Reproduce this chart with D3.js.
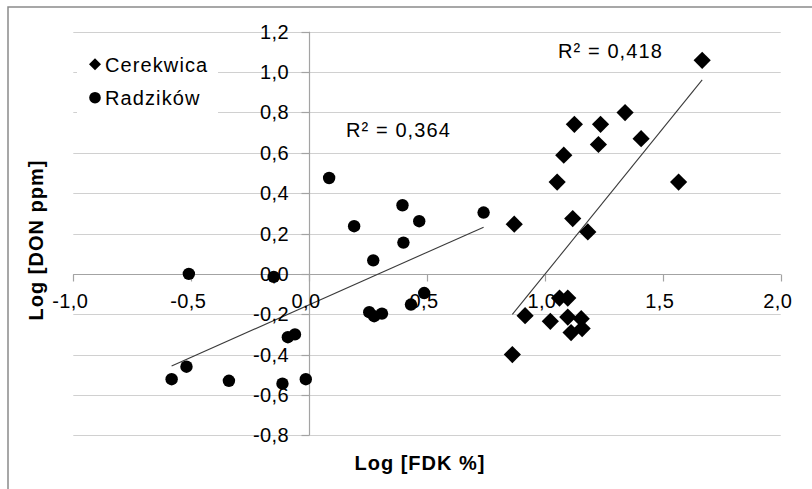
<!DOCTYPE html>
<html>
<head>
<meta charset="utf-8">
<script src="https://cdn.jsdelivr.net/npm/d3@7"></script>
<style>
  html, body { margin: 0; padding: 0; background: #fff; }
  svg { display: block; }
  text { font-family: "Liberation Sans", Arial, sans-serif; fill: #000; }
</style>
</head>
<body>
<svg id="chart" width="812" height="489"></svg>
<script>
// Series: log10 of FDK (%) and log10 of DON (ppm) per sample
const seriesNames = ["Cerekwica", "Radzików"];

const cerekwicaX = [1.667, 1.340, 1.125, 1.236, 1.227, 1.408, 1.080, 1.052, 1.567, 0.870, 1.118,
                    1.182, 1.062, 1.097, 0.916, 1.023, 1.097, 1.154, 1.111, 1.158, 0.862];
const cerekwicaY = [1.058, 0.799, 0.741, 0.741, 0.641, 0.670, 0.588, 0.455, 0.455, 0.246, 0.274,
                    0.208, -0.120, -0.120, -0.207, -0.235, -0.214, -0.222, -0.291, -0.271, -0.400];

const radzikowX = [-0.510, -0.150, -0.090, -0.060, -0.520, -0.583, -0.340, -0.113, -0.014, 0.085, 0.191,
                   0.272, 0.396, 0.400, 0.467, 0.740, 0.488, 0.432, 0.255, 0.276, 0.309];
const radzikowY = [0.000, -0.015, -0.314, -0.300, -0.460, -0.522, -0.530, -0.544, -0.522, 0.475, 0.236,
                   0.067, 0.340, 0.155, 0.261, 0.304, -0.095, -0.152, -0.190, -0.210, -0.197];

const r2Labels = ["R² = 0,418", "R² = 0,364"];

const xTicks = [-1.0, -0.5, 0.0, 0.5, 1.0, 1.5, 2.0];
const yTicks = [-0.8, -0.6, -0.4, -0.2, 0.0, 0.2, 0.4, 0.6, 0.8, 1.0, 1.2];

const xTitle = "Log [FDK %]";
const yTitle = "Log [DON ppm]";

// ---------------------------------------------------------------
const svg = d3.select("#chart");
const x = d3.scaleLinear().domain([-1, 2]).range([73.3, 780.7]);
const y = d3.scaleLinear().domain([-0.8, 1.2]).range([435.3, 31.7]);

// decimal comma, plain hyphen for negatives
const loc = d3.formatLocale({ decimal: ",", thousands: " ", grouping: [3], currency: ["", ""], minus: "-" });
const fmt = loc.format(".1f");

// outer frame
svg.append("rect")
  .attr("x", 8).attr("y", 7).attr("width", 840).attr("height", 520)
  .attr("fill", "none").attr("stroke", "#8a8a8a").attr("stroke-width", 1.5);

// horizontal gridlines
svg.append("g").selectAll("line").data(yTicks).join("line")
  .attr("x1", x(-1)).attr("x2", x(2))
  .attr("y1", d => Math.round(y(d)) + 0.5).attr("y2", d => Math.round(y(d)) + 0.5)
  .attr("stroke", "#d0d0d0").attr("stroke-width", 1.2);

// axes crossing at the origin
const x0 = Math.round(x(0)) + 0.5, y0 = Math.round(y(0)) + 0.5;
const axisColor = "#a3a3a3";
svg.append("line").attr("x1", x0).attr("x2", x0).attr("y1", y(1.2)).attr("y2", y(-0.8))
  .attr("stroke", axisColor).attr("stroke-width", 1.2);
svg.append("line").attr("x1", x(-1)).attr("x2", x(2)).attr("y1", y0).attr("y2", y0)
  .attr("stroke", axisColor).attr("stroke-width", 1.2);

// tick marks
svg.append("g").selectAll("line").data(xTicks).join("line")
  .attr("x1", d => Math.round(x(d)) + 0.5).attr("x2", d => Math.round(x(d)) + 0.5)
  .attr("y1", y0).attr("y2", y0 + 7)
  .attr("stroke", axisColor).attr("stroke-width", 1.2);
svg.append("g").selectAll("line").data(yTicks).join("line")
  .attr("x1", x0 - 8).attr("x2", x0)
  .attr("y1", d => Math.round(y(d)) + 0.5).attr("y2", d => Math.round(y(d)) + 0.5)
  .attr("stroke", axisColor).attr("stroke-width", 1.2);

// legend background hides the gridlines behind it
svg.append("rect").attr("x", 77).attr("y", 38).attr("width", 141).attr("height", 90).attr("fill", "#fff");

// trendlines (least squares, drawn over each series' x range)
function fit(xs, ys) {
  const n = xs.length, mx = d3.mean(xs), my = d3.mean(ys);
  let sxy = 0, sxx = 0;
  for (let i = 0; i < n; i++) { sxy += (xs[i] - mx) * (ys[i] - my); sxx += (xs[i] - mx) ** 2; }
  const b = sxy / sxx, a = my - b * mx;
  const lo = d3.min(xs), hi = d3.max(xs);
  return [[lo, a + b * lo], [hi, a + b * hi]];
}
const line = d3.line().x(d => x(d[0])).y(d => y(d[1]));
[[cerekwicaX, cerekwicaY], [radzikowX, radzikowY]].forEach(([xs, ys]) => {
  svg.append("path").attr("d", line(fit(xs, ys)))
    .attr("fill", "none").attr("stroke", "#3a3a3a").attr("stroke-width", 1.1);
});

// points
const diamond = r => `M0,${-r}L${r},0L0,${r}L${-r},0Z`;
svg.append("g").selectAll("path").data(d3.zip(cerekwicaX, cerekwicaY)).join("path")
  .attr("transform", d => `translate(${x(d[0])},${y(d[1])})`)
  .attr("d", diamond(8.6)).attr("fill", "#000");
svg.append("g").selectAll("circle").data(d3.zip(radzikowX, radzikowY)).join("circle")
  .attr("cx", d => x(d[0])).attr("cy", d => y(d[1])).attr("r", 6.2).attr("fill", "#000");

// tick labels
svg.append("g").selectAll("text").data(xTicks).join("text")
  .attr("x", d => x(d) - 3).attr("y", 308)
  .attr("text-anchor", "middle").style("font-size", "20px").style("letter-spacing", "0.4px")
  .text(d => fmt(d));
svg.append("g").selectAll("text").data(yTicks).join("text")
  .attr("x", 289).attr("y", d => y(d) + 7)
  .attr("text-anchor", "end").style("font-size", "20px").style("letter-spacing", "0.4px")
  .text(d => fmt(d));

// R² annotations
svg.append("text").attr("x", 558).attr("y", 58)
  .style("font-size", "20px").style("letter-spacing", "1.1px").text(r2Labels[0]);
svg.append("text").attr("x", 346).attr("y", 137)
  .style("font-size", "20px").style("letter-spacing", "1.1px").text(r2Labels[1]);

// legend
const lg = svg.append("g");
lg.append("path").attr("transform", "translate(95,64.3)").attr("d", diamond(6)).attr("fill", "#000");
lg.append("circle").attr("cx", 95).attr("cy", 97.7).attr("r", 5.8).attr("fill", "#000");
lg.append("text").attr("x", 105).attr("y", 71.5)
  .style("font-size", "20px").style("letter-spacing", "1.1px").text(seriesNames[0]);
lg.append("text").attr("x", 105).attr("y", 104.5)
  .style("font-size", "20px").style("letter-spacing", "1.1px").text(seriesNames[1]);

// axis titles
svg.append("text").attr("x", 420).attr("y", 470)
  .attr("text-anchor", "middle").style("font-size", "20px").style("font-weight", "bold")
  .style("letter-spacing", "1px").text(xTitle);
svg.append("text").attr("transform", "translate(43,240) rotate(-90)")
  .attr("text-anchor", "middle").style("font-size", "20px").style("font-weight", "bold")
  .style("letter-spacing", "1px").text(yTitle);
</script>
</body>
</html>
